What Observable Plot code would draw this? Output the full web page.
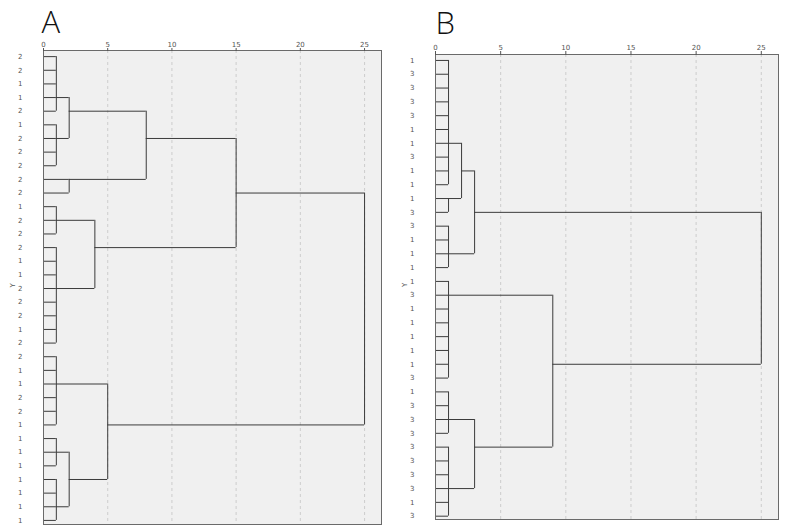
<!DOCTYPE html>
<html><head><meta charset="utf-8">
<script src="https://cdn.jsdelivr.net/npm/d3@7"></script>
<script src="https://cdn.jsdelivr.net/npm/@observablehq/plot@0.6"></script>
<style>
body{margin:0;background:#fff;width:786px;height:530px;position:relative;overflow:hidden;font-family:"Open Sans",sans-serif}
.panel{position:absolute;top:0}
</style></head><body>
<div id="a" class="panel" style="left:0"></div>
<div id="b" class="panel" style="left:393px"></div>
<script>
// ---- Panel A data ----
const labelsA = [2,2,1,1,2,1,2,2,2,2,2,1,2,2,2,1,1,2,2,2,1,2,2,1,1,2,2,1,1,1,1,1,1,1,1];
// merges: [height, firstRow, lastRow, outputRow, parentHeight]
const mergesA = [
  [1, 0, 4, 3, 2],
  [1, 5, 8, 6, 2],
  [2, 3, 6, 4, 8],
  [2, 9, 10, 9, 8],
  [8, 4, 9, 6, 15],
  [1, 11, 13, 12, 4],
  [1, 14, 21, 17, 4],
  [4, 12, 17, 14, 15],
  [15, 6, 14, 10, 25],
  [1, 22, 27, 24, 5],
  [1, 28, 30, 29, 2],
  [1, 31, 34, 33, 2],
  [2, 29, 33, 31, 5],
  [5, 24, 31, 27, 25],
  [25, 10, 27, null, null]
];
// ---- Panel B data ----
const labelsB = [1,3,3,3,3,1,1,3,1,1,1,3,3,1,1,1,1,3,1,1,1,1,1,3,1,3,3,3,3,3,3,3,1,3];
const mergesB = [
  [1, 0, 9, 6, 2],
  [1, 10, 11, 10, 2],
  [2, 6, 10, 8, 3],
  [1, 12, 15, 14, 3],
  [3, 8, 14, 11, 25],
  [1, 16, 23, 17, 9],
  [1, 24, 27, 26, 3],
  [1, 28, 33, 31, 3],
  [3, 26, 31, 28, 9],
  [9, 17, 28, 22, 25],
  [25, 11, 22, null, null]
];
const xTicks = [0, 5, 10, 15, 20, 25];
const gridTicks = [5, 10, 15, 20, 25];

function dendro(el, tag, labels, merges, o) {
  const n = labels.length;
  const leaves = d3.range(n).map(i => {
    const d = d3.min(merges.filter(m => m[1] <= i && i <= m[2]), m => m[0]);
    return {y: i, x1: 0, x2: d};
  });
  const hs = leaves.concat(merges.filter(m => m[4] != null).map(m => ({y: m[3], x1: m[0], x2: m[4]})));
  const vs = merges.map(m => ({x: m[0], y1: m[1], y2: m[2]}));
  const line = "#3b3b3b";
  const p = Plot.plot({
    width: 393, height: 530,
    marginLeft: o.ml, marginRight: o.mr, marginTop: o.mt, marginBottom: o.mb,
    style: {fontFamily: "DejaVu Sans, sans-serif", background: "transparent", color: "#555"},
    x: {domain: [0, o.xMax]},
    y: {domain: o.yDomain, reverse: true},
    marks: [
      Plot.frame({fill: "#f0f0f0", stroke: "none"}),
      Plot.ruleX(gridTicks, {stroke: "#c4c4c4", strokeDasharray: "3,3", strokeWidth: 0.8}),
      Plot.ruleY(hs, {y: "y", x1: "x1", x2: "x2", stroke: line, strokeWidth: 1}),
      Plot.ruleX(vs, {x: "x", y1: "y1", y2: "y2", stroke: line, strokeWidth: 1}),
      Plot.frame({stroke: "#6a6a6a", strokeWidth: 1}),
      Plot.axisX({anchor: "top", ticks: xTicks, tickSize: o.ts, tickPadding: 1, fontSize: 7, label: null, stroke: "#555", fill: "#555"}),
      Plot.axisY({ticks: d3.range(n), tickFormat: i => String(labels[i]), tickSize: 0, tickPadding: 21, fontSize: 7, label: null, fill: "#555"}),
      Plot.text(["Y"], {frameAnchor: "left", dx: -31, rotate: -90, fontSize: 7, fill: "#555", text: d => d}),
      Plot.text([tag], {frameAnchor: "top-left", dx: o.tdx, dy: o.tdy, lineAnchor: "bottom", textAnchor: "start",
        fontSize: 31, fontWeight: 300, fontFamily: "Open Sans, sans-serif", fill: "#111", text: d => d})
    ]
  });
  document.getElementById(el).appendChild(p);
}

dendro("a", "A", labelsA, mergesA, {ml: 43, mr: 12, mt: 50, mb: 6, xMax: 26.32, yDomain: [-0.45, 34.3], ts: 3, tdx: -2, tdy: -18});
dendro("b", "B", labelsB, mergesB, {ml: 42, mr: 8, mt: 54, mb: 11, xMax: 26.32, yDomain: [-0.43, 33.24], ts: 4, tdx: 0, tdy: -21});
</script>
</body></html>
